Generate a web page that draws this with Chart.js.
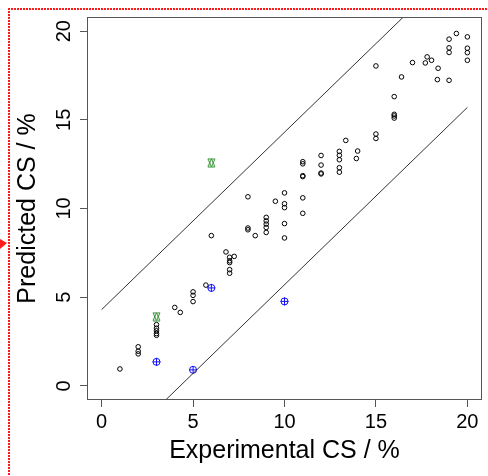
<!DOCTYPE html>
<html>
<head>
<meta charset="utf-8">
<script src="https://cdn.jsdelivr.net/npm/chart.js@4.4.1/dist/chart.umd.min.js"></script>
<style>
  body { margin: 0; background: #fff; }
  #wrap { width: 488px; height: 476px; position: relative; }
</style>
</head>
<body>
<div id="wrap"><canvas id="Chart"></canvas></div>
<script>
// experimental vs predicted CS (%) - black open circles
var expX = [1, 2, 2, 2, 3, 3, 3, 3, 3, 4, 4.3, 5, 5, 5, 5.7, 6,
    6.8, 7, 7.25, 7, 7, 7, 7, 8, 8, 8, 8.4, 9, 9, 9, 9, 9, 9.5,
    10, 10, 10, 10, 10, 11, 11, 11, 11, 11, 11, 12, 12, 12, 12,
    13, 13, 13, 13, 13, 13.35, 14, 13.93, 15, 15, 15, 16, 16, 16, 16,
    16.4, 17, 17.7, 17.8, 18.04, 18.4, 18.36, 19, 19, 19, 19, 19.4,
    20, 20, 20, 20];
var predY = [0.95, 2.2, 1.95, 1.8, 3.45, 3.25, 3.1, 2.95, 2.85, 4.42, 4.14, 5.3, 5.1, 4.75, 5.68, 8.47,
    7.55, 7.25, 7.3, 7.05, 6.95, 6.55, 6.35, 10.66, 8.9, 8.8, 8.47, 9.5, 9.3, 9.12, 8.93, 8.65, 10.41,
    10.88, 10.27, 10.05, 9.15, 8.34, 12.64, 12.52, 11.85, 11.8, 10.6, 9.73, 12.99, 12.45, 12.0, 11.95,
    13.22, 13.0, 12.75, 12.3, 12.05, 13.84, 13.24, 12.82, 18.04, 14.2, 13.95, 16.31, 15.31, 15.22, 15.1,
    17.42, 18.23, 18.21, 18.55, 18.36, 17.91, 17.27, 19.55, 19.06, 18.8, 17.23, 19.87,
    19.68, 19.04, 18.79, 18.36];

// over-predicted (green) and under-predicted (blue) samples
var greenX = [3, 6];
var greenY = [3.9, 12.58];
var blueX = [3, 5, 6, 10];
var blueY = [1.35, 0.9, 5.52, 4.76];

// limit lines
var lineX = [0, 20];
var upperY = [4.3, 24.3];
var lowerY = [-4.3, 15.7];

var tickVals = [0, 5, 10, 15, 20];
var axisMin = -0.8, axisMax = 20.8;

function pts(xs, ys) {
    return xs.map(function (x, i) { return { x: x, y: ys[i] }; });
}

var FONT = "'Liberation Sans', Arial, sans-serif";
var green = '#2f8f2f';
var blue = '#1010ff';

// R-like pch 11 marker (up + down triangle, full height each)
function pch11(col) {
    var cv = document.createElement('canvas');
    cv.width = 9; cv.height = 10;
    var g = cv.getContext('2d');
    g.strokeStyle = col;
    g.lineWidth = 1;
    g.beginPath();
    g.moveTo(4.5, 1); g.lineTo(8, 9); g.lineTo(1, 9); g.closePath();
    g.moveTo(1, 1); g.lineTo(8, 1); g.lineTo(4.5, 9); g.closePath();
    g.stroke();
    return cv;
}

// box, rotated y tick labels and the red dotted selection frame
var extras = {
    id: 'extras',
    afterDraw: function (chart) {
        var c = chart.ctx, a = chart.chartArea;
        c.save();
        c.strokeStyle = '#555';
        c.lineWidth = 1;
        c.strokeRect(Math.round(a.left) + 0.5, Math.round(a.top) + 0.5,
            Math.round(a.right - a.left) - 1, Math.round(a.bottom - a.top) - 1);

        var ys = chart.scales.y;
        c.fillStyle = '#000';
        c.font = '20px ' + FONT;
        c.textAlign = 'center';
        c.textBaseline = 'middle';
        tickVals.forEach(function (v) {
            c.save();
            c.translate(64, ys.getPixelForValue(v));
            c.rotate(-Math.PI / 2);
            c.fillText(String(v), 0, 0);
            c.restore();
        });

        c.fillStyle = '#ff1a1a';
        for (var x = 8; x < chart.width; x += 3) c.fillRect(x, 8, 2, 2);
        for (var y = 8; y < chart.height; y += 3) c.fillRect(8, y, 2, 2);
        c.beginPath();
        c.moveTo(0, 239);
        c.lineTo(7, 243);
        c.lineTo(0, 249);
        c.closePath();
        c.fill();
        c.restore();
    }
};

function axis(title, pad, fit, showTicks) {
    return {
        type: 'linear',
        min: axisMin,
        max: axisMax,
        afterBuildTicks: function (s) {
            s.ticks = tickVals.map(function (v) { return { value: v }; });
        },
        afterFit: fit,
        border: { display: false },
        grid: { drawOnChartArea: false, drawTicks: true, tickLength: 7, color: '#555' },
        ticks: { display: showTicks, color: '#000', padding: 3, font: { size: 20, family: FONT } },
        title: {
            display: true,
            text: title,
            color: '#000',
            padding: pad,
            font: { size: 25, family: FONT }
        }
    };
}

const ctx = document.getElementById('Chart');
var myChart = new Chart(ctx, {
    type: 'scatter',
    data: {
        datasets: [
            { data: pts(lineX, upperY), showLine: true, pointRadius: 0, borderColor: '#333', borderWidth: 1 },
            { data: pts(lineX, lowerY), showLine: true, pointRadius: 0, borderColor: '#333', borderWidth: 1 },
            { data: pts(expX, predY), pointStyle: 'circle', pointRadius: 2.3, borderColor: '#000',
              backgroundColor: 'rgba(0,0,0,0)', borderWidth: 1 },
            { data: pts(greenX, greenY), pointStyle: pch11(green), pointRadius: 5 },
            { data: pts(blueX, blueY), pointStyle: 'circle', pointRadius: 3.5,
              borderColor: blue, backgroundColor: 'rgba(0,0,0,0)', borderWidth: 1 },
            { data: pts(blueX, blueY), pointStyle: 'cross', pointRadius: 4,
              borderColor: blue, borderWidth: 1 }
        ]
    },
    options: {
        responsive: true,
        maintainAspectRatio: false,
        animation: false,
        layout: { padding: { left: 0, top: 17, right: 2, bottom: 0 } },
        plugins: { legend: { display: false }, tooltip: { enabled: false } },
        scales: {
            x: axis('Experimental CS / %', { top: 0, bottom: 10 },
                function (s) { s.height = 76; }, true),
            y: axis('Predicted CS / %', { top: 13, bottom: 0 },
                function (s) { s.width = 87; }, false)
        }
    },
    plugins: [extras]
});
</script>
</body>
</html>
